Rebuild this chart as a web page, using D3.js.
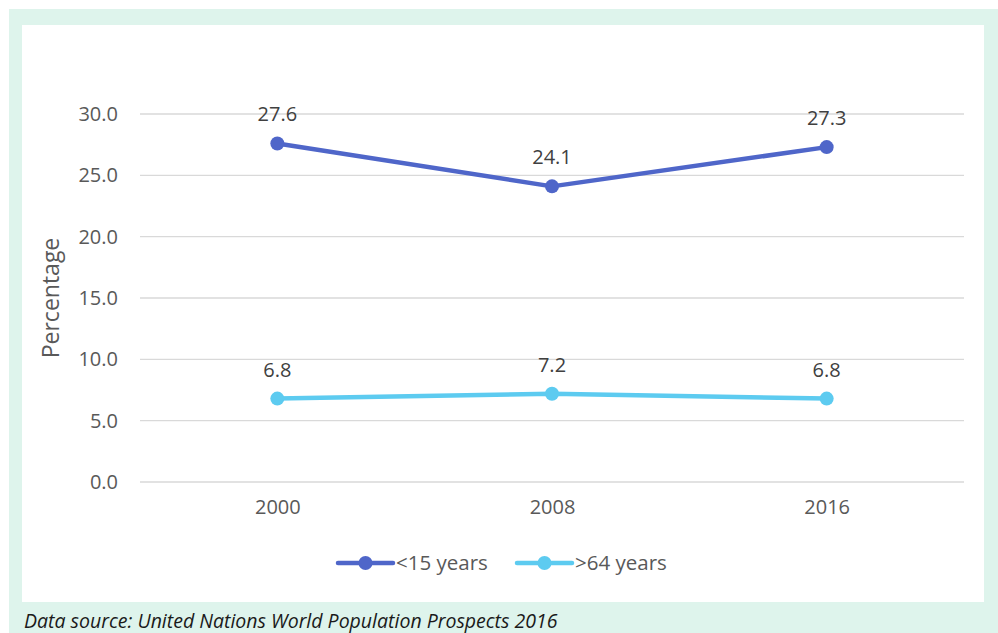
<!DOCTYPE html>
<html><head><meta charset="utf-8">
<script src="https://cdn.jsdelivr.net/npm/d3@7"></script>
<style>body{margin:0;background:#fff}svg{display:block}</style>
</head><body>
<script>
const categories = ["2000", "2008", "2016"];
const seriesNames = ["<15 years", ">64 years"];
const under15 = [27.6, 24.1, 27.3];
const over64 = [6.8, 7.2, 6.8];
const yTicks = [0, 5, 10, 15, 20, 25, 30];
const colors = ["#4f66c9", "#5dcbf0"];
const caption = "Data source: United Nations World Population Prospects 2016";

const W = 998, H = 633;
const svg = d3.select("body").append("svg").attr("width", W).attr("height", H);
const font = "'Open Sans', 'Noto Sans', sans-serif";
const fs = 20;

svg.append("rect").attr("x", 9).attr("y", 9).attr("width", W - 9).attr("height", H - 9).attr("fill", "#def4ec");
svg.append("rect").attr("x", 22).attr("y", 25).attr("width", 962).attr("height", 577).attr("fill", "#fff");

const x = d3.scalePoint().domain(categories).range([140, 964]).padding(0.5);
const y = d3.scaleLinear().domain([0, 30]).range([482, 114]);

// gridlines
svg.append("g").selectAll("line").data(yTicks).join("line")
  .attr("x1", 140).attr("x2", 964)
  .attr("y1", d => y(d)).attr("y2", d => y(d))
  .attr("stroke", "#d9d9d9").attr("stroke-width", 1.3);

// y axis labels
const yAxis = d3.axisLeft(y).tickValues(yTicks).tickFormat(d3.format(".1f")).tickSize(0).tickPadding(0);
const yg = svg.append("g").attr("transform", "translate(118,0)").call(yAxis);
yg.select(".domain").remove();
yg.selectAll("text").attr("font-family", font).attr("font-size", fs).attr("fill", "#595959");

// x axis labels
const xAxis = d3.axisBottom(x).tickSize(0).tickPadding(0);
const xg = svg.append("g").attr("transform", "translate(0,500)").call(xAxis);
xg.select(".domain").remove();
xg.selectAll("text").attr("font-family", font).attr("font-size", fs).attr("fill", "#595959");

// y title
svg.append("text").attr("transform", "translate(59,298) rotate(-90)")
  .attr("text-anchor", "middle").attr("font-family", font).attr("font-size", 23)
  .attr("fill", "#595959").text("Percentage");

const series = [under15, over64];
const line = d3.line().x((d, i) => x(categories[i])).y(d => y(d));
series.forEach((vals, si) => {
  const g = svg.append("g");
  g.append("path").datum(vals).attr("d", line).attr("fill", "none")
    .attr("stroke", colors[si]).attr("stroke-width", 4.5).attr("stroke-linejoin", "round");
  g.selectAll("circle").data(vals).join("circle")
    .attr("cx", (d, i) => x(categories[i])).attr("cy", d => y(d)).attr("r", 7)
    .attr("fill", colors[si]);
  g.selectAll("text").data(vals).join("text")
    .attr("x", (d, i) => x(categories[i])).attr("y", d => y(d) - 22)
    .attr("text-anchor", "middle").attr("font-family", font).attr("font-size", fs)
    .attr("fill", "#404040").text(d => d3.format(".1f")(d));
});

// legend
const legX = [338, 517];
seriesNames.forEach((name, i) => {
  const g = svg.append("g").attr("transform", `translate(${legX[i]},563)`);
  g.append("line").attr("x1", 0).attr("x2", 55).attr("y1", 0).attr("y2", 0)
    .attr("stroke", colors[i]).attr("stroke-width", 4.5).attr("stroke-linecap", "round");
  g.append("circle").attr("cx", 27.5).attr("cy", 0).attr("r", 7).attr("fill", colors[i]);
  g.append("text").attr("x", 58).attr("y", 0).attr("dy", "0.35em")
    .attr("font-family", font).attr("font-size", 20.5).attr("fill", "#595959").text(name);
});

svg.append("text").attr("x", 24).attr("y", 628)
  .attr("font-family", font).attr("font-size", 19.5).attr("font-style", "italic")
  .attr("fill", "#1a1a1a").text(caption);
</script>
</body></html>
